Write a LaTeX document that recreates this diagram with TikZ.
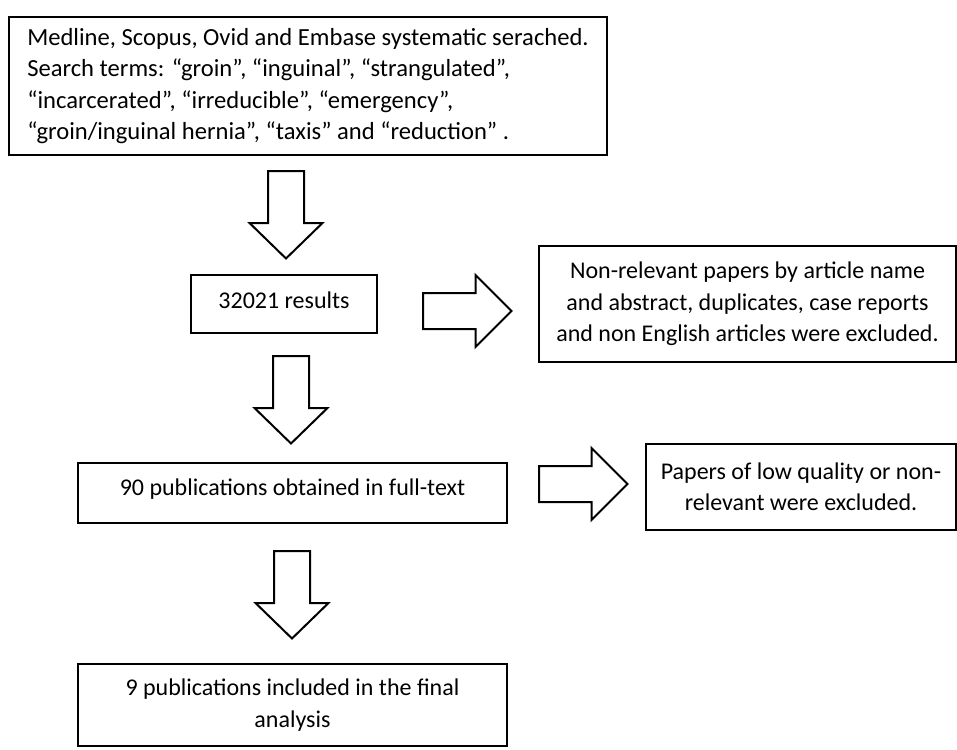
\documentclass[tikz,border=0pt]{standalone}
\usepackage{fontspec}
\setmainfont{Carlito}
\begin{document}
\begin{tikzpicture}[x=1pt,y=-1pt,
  box/.style={draw, line width=2.2pt, inner sep=0pt, align=center,
    font=\fontsize{24}{31.3}\selectfont},
  blk/.style={draw, line width=2pt, line join=miter, fill=white},
  darrow/.pic={\draw[blk] (-18,0) -- (18,0) -- (18,52) -- (36.5,52) -- (0,87.5)
      -- (-36.5,52) -- (-18,52) -- cycle;},
  rarrow/.pic={\draw[blk] (0,-18) -- (52.5,-18) -- (52.5,-36) -- (88.5,0)
      -- (52.5,36) -- (52.5,18) -- (0,18) -- cycle;}]
\useasboundingbox (0,0) rectangle (957,749);

\node[box, align=left, minimum width=598, minimum height=138,
  font=\fontsize{24.6}{31.3}\selectfont] (b1) at (308,86)
  {Medline, Scopus, Ovid and Embase systematic serached.\hspace{8pt}\\
   Search terms: “groin”, “inguinal”, “strangulated”,\\
   “incarcerated”, “irreducible”, “emergency”,\\
   “groin/inguinal hernia”, “taxis” and “reduction” .};

\node[box, minimum width=186, minimum height=58, text height=16pt, text depth=8pt]
  (b2) at (284,304) {32021 results};

\node[box, minimum width=417, minimum height=116] (b3) at (747.5,304)
  {Non-relevant papers by article name\\
   and abstract, duplicates, case reports\\
   and non English articles were excluded.};

\node[box, minimum width=429, minimum height=60, text height=16pt, text depth=12pt]
  (b4) at (292.5,493) {90 publications obtained in full-text};

\node[box, minimum width=310, minimum height=86] (b5) at (801,487)
  {Papers of low quality or non-\\relevant were excluded.};

\node[box, minimum width=429, minimum height=82] (b6) at (292.5,705)
  {9 publications included in the final\\analysis};

\pic at (286,171) {darrow};
\pic at (291,356) {darrow};
\pic at (292,551) {darrow};
\pic at (423,311) {rarrow};
\pic at (539,484) {rarrow};
\end{tikzpicture}
\end{document}
